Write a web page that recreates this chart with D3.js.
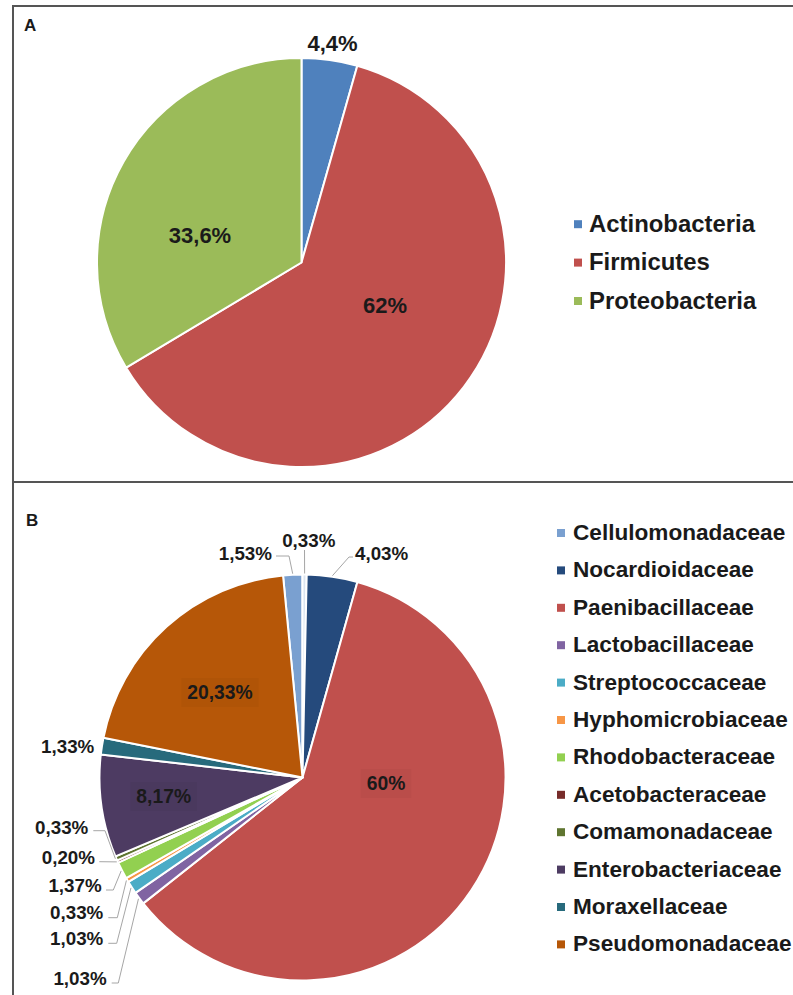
<!DOCTYPE html>
<html>
<head>
<meta charset="utf-8">
<script src="https://cdn.jsdelivr.net/npm/d3@7"></script>
<style>
  html, body { margin: 0; padding: 0; background: #fff; }
  svg { display: block; }
  text { font-family: "Liberation Sans", Arial, sans-serif; font-weight: bold; fill: #1a1a1a; }
</style>
</head>
<body>
<svg id="chart" width="793" height="995"></svg>
<script>
// ---------- DATA ----------
const categoriesA = ["Actinobacteria", "Firmicutes", "Proteobacteria"];
const valuesA = [4.4, 62, 33.6];
const colorsA = ["#4f81bd", "#c0504d", "#9bbb59"];

const categoriesB = ["Cellulomonadaceae", "", "Nocardioidaceae", "Paenibacillaceae", "Lactobacillaceae",
  "Streptococcaceae", "Hyphomicrobiaceae", "Rhodobacteraceae", "Acetobacteraceae", "Comamonadaceae",
  "Enterobacteriaceae", "Moraxellaceae", "Pseudomonadaceae"];
const valuesB = [1.53, 0.33, 4.03, 60, 1.03, 1.03, 0.33, 1.37, 0.20, 0.33, 8.17, 1.33, 20.33];
const colorsB = ["#7aa0d0", "#dbe5f1", "#254a7c", "#c0504d", "#8064a2", "#4bacc6", "#f79646",
  "#92d050", "#772c2a", "#5f7530", "#4d3b62", "#276a7c", "#b65708"];
const legendOrderB = ["Cellulomonadaceae", "Nocardioidaceae", "Paenibacillaceae", "Lactobacillaceae",
  "Streptococcaceae", "Hyphomicrobiaceae", "Rhodobacteraceae", "Acetobacteraceae", "Comamonadaceae",
  "Enterobacteriaceae", "Moraxellaceae", "Pseudomonadaceae"];

// ---------- LAYOUT (label placement, not data) ----------
const labelLayoutA = [
  { x: 332.5, y: 50.7, anchor: "middle" },
  { x: 385, y: 313, anchor: "middle" },
  { x: 200, y: 243, anchor: "middle" }
];
const labelLayoutB = [
  { x: 272, y: 560, anchor: "end", leader: [[289, 556], [276, 556]] },
  { x: 308.8, y: 546.7, anchor: "middle", leader: [[304.5, 550]] },
  { x: 355, y: 560, anchor: "start", leader: [[349, 557], [353, 557]] },
  { x: 386, y: 790, anchor: "middle", box: true },
  { x: 106.7, y: 985, anchor: "end", leader: [[118.3, 983], [111.7, 983]] },
  { x: 103.3, y: 945, anchor: "end", leader: [[116.7, 943.3], [108.3, 943.3]] },
  { x: 103.3, y: 919, anchor: "end", leader: [[117.3, 917.7], [108.3, 917.7]] },
  { x: 101.7, y: 891.7, anchor: "end", leader: [[113.3, 890], [106, 890]] },
  { x: 95, y: 863.5, anchor: "end", leader: [[99.3, 861.7]] },
  { x: 88.3, y: 834, anchor: "end", leader: [[105, 830.7], [93.3, 830.7]] },
  { x: 163.7, y: 803, anchor: "middle", box: true },
  { x: 94.3, y: 753, anchor: "end" },
  { x: 220, y: 699, anchor: "middle", box: true }
];

function fmt(v, dec) {
  const s = Number.isInteger(v) ? String(v) : v.toFixed(dec);
  return s.replace(".", ",") + "%";
}

const svg = d3.select("#chart");

// ---------- FRAME ----------
const frame = svg.append("g").attr("stroke", "#555").attr("stroke-width", 2).attr("fill", "none");
frame.append("line").attr("x1", 13).attr("x2", 793).attr("y1", 6).attr("y2", 6);
frame.append("line").attr("x1", 13).attr("x2", 13).attr("y1", 5).attr("y2", 995);
frame.append("line").attr("x1", 13).attr("x2", 793).attr("y1", 482).attr("y2", 482);

svg.append("text").attr("x", 24).attr("y", 30.7).attr("font-size", 17).text("A");
svg.append("text").attr("x", 26).attr("y", 526).attr("font-size", 17).text("B");

// ---------- PIE A ----------
const cA = { x: 301.5, y: 262.5 }, rA = 204.5;
const pieA = d3.pie().sort(null).value(d => d)(valuesA);
const arcA = d3.arc().innerRadius(0).outerRadius(rA);
const gA = svg.append("g").attr("transform", `translate(${cA.x},${cA.y})`);
gA.selectAll("path").data(pieA).join("path")
  .attr("d", arcA)
  .attr("fill", (d, i) => colorsA[i])
  .attr("stroke", "#fff").attr("stroke-width", 2).attr("stroke-linejoin", "round");

svg.append("g").selectAll("text").data(valuesA).join("text")
  .attr("x", (d, i) => labelLayoutA[i].x)
  .attr("y", (d, i) => labelLayoutA[i].y)
  .attr("text-anchor", (d, i) => labelLayoutA[i].anchor)
  .attr("font-size", 22)
  .text(d => fmt(d, 1));

const legA = svg.append("g");
categoriesA.forEach((c, i) => {
  const by = 231.7 + i * 38.4;
  legA.append("rect").attr("x", 574).attr("y", by - 11.5).attr("width", 8).attr("height", 8).attr("fill", colorsA[i]);
  legA.append("text").attr("x", 589).attr("y", by).attr("font-size", 23.9).text(c);
});

// ---------- PIE B ----------
const cB = { x: 302.5, y: 777.5 }, rB = 203;
const total = d3.sum(valuesB);
const startB = -valuesB[0] / total * 2 * Math.PI;
const pieB = d3.pie().sort(null).value(d => d).startAngle(startB).endAngle(startB + 2 * Math.PI)(valuesB);
const arcB = d3.arc().innerRadius(0).outerRadius(rB);
const gB = svg.append("g").attr("transform", `translate(${cB.x},${cB.y})`);
gB.selectAll("path").data(pieB).join("path")
  .attr("d", arcB)
  .attr("fill", (d, i) => colorsB[i])
  .attr("stroke", "#fff").attr("stroke-width", 2).attr("stroke-linejoin", "round");

// leader lines
const leaderG = svg.append("g").attr("fill", "none").attr("stroke", "#a6a6a6").attr("stroke-width", 1);
pieB.forEach((d, i) => {
  const L = labelLayoutB[i];
  if (!L.leader) return;
  const a = (d.startAngle + d.endAngle) / 2;
  const p0 = [cB.x + (rB + 1) * Math.sin(a), cB.y - (rB + 1) * Math.cos(a)];
  leaderG.append("polyline").attr("points", [p0].concat(L.leader).map(p => p.join(",")).join(" "));
});

// labels
const labG = svg.append("g");
pieB.forEach((d, i) => {
  const L = labelLayoutB[i];
  const txt = fmt(valuesB[i], 2);
  const t = labG.append("text")
    .attr("x", L.x).attr("y", L.y)
    .attr("text-anchor", L.anchor)
    .attr("font-size", L.box ? 19.3 : 18.8)
    .text(txt);
  if (L.box) {
    const bb = t.node().getBBox();
    labG.insert("rect", "text")
      .attr("x", bb.x - 6).attr("y", bb.y - 4).attr("width", bb.width + 12).attr("height", bb.height + 8)
      .attr("fill", "rgba(0,0,0,0.03)");
  }
});

// legend B
const legB = svg.append("g");
legendOrderB.forEach((name, i) => {
  const idx = categoriesB.indexOf(name);
  const by = 540 + i * 37.4;
  legB.append("rect").attr("x", 557).attr("y", by - 11).attr("width", 8).attr("height", 8).attr("fill", colorsB[idx]);
  legB.append("text").attr("x", 573).attr("y", by).attr("font-size", 22.6).text(name);
});
</script>
</body>
</html>
